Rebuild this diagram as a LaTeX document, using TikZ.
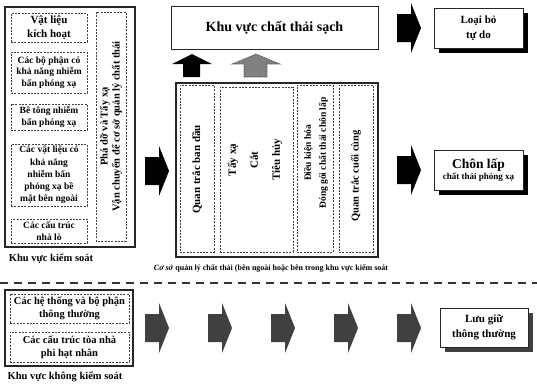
\documentclass[tikz,border=0pt]{standalone}
\usepackage{fontspec}
\setmainfont{Liberation Serif}
\usetikzlibrary{shadows}
\newcommand{\fsz}[2]{\fontsize{#1}{#2}\selectfont\bfseries}
\newcommand{\myRarr}[3]{\fill[#3] (#1,#2-14) -- (#1+14,#2-14) -- (#1+14,#2-25) -- (#1+24,#2) -- (#1+14,#2+25) -- (#1+14,#2+14) -- (#1,#2+14) -- cycle;}
\tikzset{
  outerbox/.style={draw=black!85, line width=1.2pt, inner sep=0pt},
  dbox/.style={draw=black!75, dash pattern=on 2pt off 1.3pt, line width=0.7pt, inner sep=0pt, align=center},
  txt/.style={align=center, inner sep=0pt},
  sbox/.style={draw=black!85, line width=0.8pt, fill=white, align=center, inner sep=0pt,
    drop shadow={shadow xshift=5pt, shadow yshift=-5pt, fill=#1, opacity=1}},
  sbox/.default=black
}
\begin{document}
\begin{tikzpicture}[x=1pt,y=-1pt]
\useasboundingbox (0,0) rectangle (537,383);
\fill[white] (0,0) rectangle (537,383);

% ---------- controlled area (left)
\node[outerbox, minimum width=130pt, minimum height=240pt] (ctrl) at (70,127) {};
\node[dbox, minimum width=76pt, minimum height=29pt, font=\fsz{11}{13.5}] (b1) at (49,27.5) {Vật liệu\\kích hoạt};
\node[dbox, minimum width=76pt, minimum height=41pt, font=\fsz{9.5}{11.2}] (b2) at (49,72.5) {Các bộ phận có\\khả năng nhiễm\\bẩn phóng xạ};
\node[dbox, minimum width=76pt, minimum height=26pt, font=\fsz{9.5}{11.5}] (b3) at (49,117) {Bê tông nhiễm\\bẩn phóng xạ};
\node[dbox, minimum width=76pt, minimum height=62pt, font=\fsz{9.5}{12.3}] (b4) at (49,175) {Các vật liệu có\\khả năng\\nhiễm bẩn\\phóng xạ bề\\mặt bên ngoài};
\node[dbox, minimum width=76pt, minimum height=24pt, font=\fsz{9.5}{11.5}] (b5) at (49,231) {Các cấu trúc\\nhà lò};
\node[dbox, rotate=90, minimum width=229pt, minimum height=30pt, font=\fsz{10.5}{12}] (b6) at (111,126.5) {Phá dỡ và Tẩy xạ\\Vận chuyển để cơ sở quản lý chất thải};
\node[txt, font=\fsz{10.5}{12}] (ctrllbl) at (51,259) {Khu vực kiểm soát};

% arrow into waste facility
\myRarr{145}{171}{black}

% ---------- clean waste area
\node[outerbox, line width=1pt, minimum width=207pt, minimum height=43pt, font=\fsz{14}{16}] (clean) at (274.5,27.5) {Khu vực chất thải sạch};
\fill[black] (183,77) -- (200,77) -- (200,64) -- (212,64) -- (192,54) -- (172,64) -- (183,64) -- cycle;
\filldraw[fill=black!50, draw=black!70, dash pattern=on 1.5pt off 1pt, line width=0.6pt]
  (244,77) -- (267,77) -- (267,64) -- (280,64) -- (256,54) -- (232,64) -- (244,64) -- cycle;

% ---------- waste management facility
\node[outerbox, minimum width=202pt, minimum height=174pt] (fac) at (277,170) {};
\node[dbox, minimum width=34pt, minimum height=167pt] (m1) at (197,168.5) {};
\node[dbox, minimum width=73pt, minimum height=165pt] (m2) at (256.5,169.5) {};
\node[dbox, minimum width=36pt, minimum height=167pt] (m3) at (315,168.5) {};
\node[dbox, minimum width=34pt, minimum height=167pt] (m4) at (356,168.5) {};
\node[txt, rotate=90, font=\fsz{11}{13}] (t1) at (197,169.5) {Quan trắc ban đầu};
\node[txt, rotate=90, font=\fsz{11}{22}] (t2) at (255,160) {Tẩy xạ\\Cắt\\Tiêu hủy};
\node[txt, rotate=90, font=\fsz{9.5}{15}] (t3) at (316,153) {Điều kiện hóa\\Đóng gói chất thải chôn lấp};
\node[txt, rotate=90, font=\fsz{10.5}{12}] (t4) at (356,176) {Quan trắc cuối cùng};
\node[txt, font=\fsz{8}{9}] (faclbl) at (271,268) {\textit{Cơ sở} quản lý chất thải (bên ngoài hoặc bên trong khu vực kiểm soát};

% ---------- outcomes (right)
\myRarr{397}{28}{black}
\myRarr{397}{170}{black}
\node[sbox, minimum width=89pt, minimum height=40pt, font=\fsz{11}{15}] (free) at (478.5,28) {Loại bỏ\\tự do};
\node[sbox, minimum width=89pt, minimum height=40pt] (disp) at (478.5,170) {{\fsz{13.5}{16}Chôn lấp}\\[-1pt]{\fsz{9}{11}chất thải phóng xạ}};

% ---------- separator
\draw[black!80, line width=1.3pt, dash pattern=on 8pt off 6pt] (0,283) -- (537,283);

% ---------- uncontrolled area
\node[outerbox, minimum width=128pt, minimum height=76pt] (unc) at (69,328) {};
\node[dbox, minimum width=119pt, minimum height=29pt, font=\fsz{10.5}{13}] (u1) at (69.5,308.5) {Các hệ thống và bộ phận\\thông thường};
\node[dbox, minimum width=119pt, minimum height=30pt, font=\fsz{10.5}{13}] (u2) at (69.5,347) {Các cấu trúc tòa nhà\\phi hạt nhân};
\node[txt, font=\fsz{10.5}{12}] (unclbl) at (65,377) {Khu vực không kiểm soát};

\foreach \xx in {145,208,271,334,397} {\myRarr{\xx}{328}{black!75}}
\node[sbox=black!75, minimum width=88pt, minimum height=39pt, font=\fsz{11}{15}] (store) at (484,327.5) {Lưu giữ\\thông thường};
\end{tikzpicture}
\end{document}
